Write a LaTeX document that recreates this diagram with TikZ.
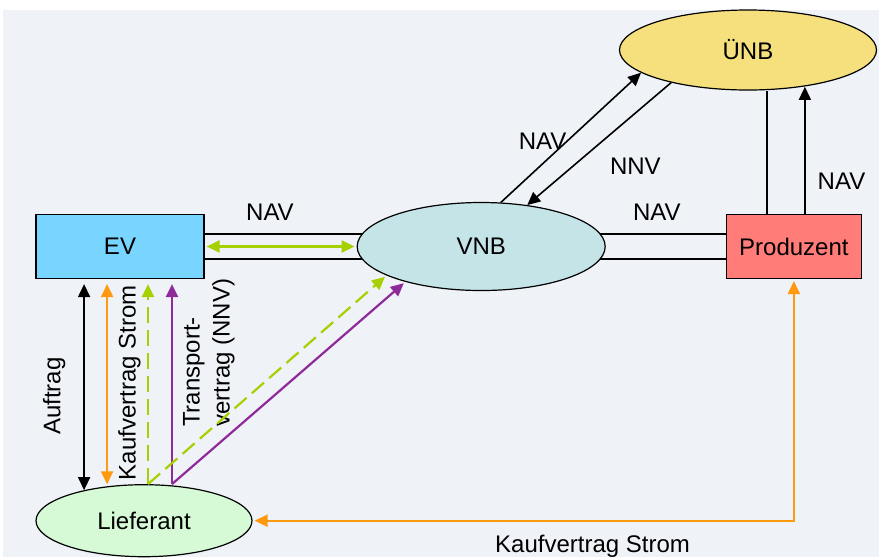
\documentclass[tikz,border=0pt]{standalone}
\usepackage{fontspec}
\setmainfont{Liberation Sans}
\usetikzlibrary{arrows.meta,positioning,shapes.geometric}
\definecolor{hgrund}{HTML}{EFF2F7}
\definecolor{evblau}{HTML}{77D5FF}
\definecolor{vnbtuerkis}{HTML}{C5E4E8}
\definecolor{uenbgelb}{HTML}{F5E07D}
\definecolor{prodrot}{HTML}{FF7C78}
\definecolor{liefgruen}{HTML}{D5FAD5}
\definecolor{navgruen}{HTML}{A6D000}
\definecolor{stromorange}{HTML}{FF9A10}
\definecolor{nnvlila}{HTML}{8E2A99}
\pgfdeclarelayer{hintergrund}
\pgfdeclarelayer{leitungen}
\pgfsetlayers{hintergrund,leitungen,main}
\tikzset{
    %Define standard arrow tip
    >={Triangle[length=13pt,width=12pt]},
    %Define style for boxes
    akteur/.style={
           rectangle,
           draw=black, line width=1.2pt,
           minimum height=64pt,
           text centered},
    netz/.style={
           ellipse,
           draw=black, line width=1.2pt,
           inner sep=0pt,
           text centered},
    % Define arrow styles
    vertrag/.style={
           line width=1.6pt},
    pfeil/.style={
           line width=2.2pt,
           shorten <=2pt,
           shorten >=2pt},
    strich/.style={
           dash pattern=on 16pt off 7pt},
    kanal/.style={
           line width=1.6pt,
           double=hgrund,
           double distance=23pt},
    lbl/.style={inner sep=2pt, text=black}
}
\begin{document}
\begin{tikzpicture}[x=1pt,y=-1pt,font=\fontsize{24}{30}\selectfont]
 \useasboundingbox (0,0) rectangle (879,558);
 \begin{pgfonlayer}{hintergrund}
  \fill[hgrund] (3,10) rectangle (879,557);
 \end{pgfonlayer}
 %nodes
\node[akteur, fill=evblau, minimum width=168pt] (ev) at (120,246.5) {EV};
\node[netz, fill=vnbtuerkis, minimum width=248pt, minimum height=88pt, right=152pt of ev] (vnb) {VNB};
\node[akteur, fill=prodrot, minimum width=135pt, right=120pt of vnb] (prod) {Produzent};
\node[netz, fill=uenbgelb, minimum width=257pt, minimum height=80pt] (uenb) at (748,50) {ÜNB};
\node[netz, fill=liefgruen, minimum width=216pt, minimum height=72pt, below=205pt of ev, xshift=24pt] (lief) {Lieferant};
 %edges
 \begin{pgfonlayer}{leitungen}
  \draw[kanal] (ev.center) -- (vnb.center);
  \draw[kanal] (vnb.center) -- node[lbl, pos=.562, above=23pt] {NAV} (prod.center);
 \end{pgfonlayer}
 \draw[<->, pfeil, navgruen] (ev.east) -- node[lbl, pos=.43, above=23pt] {NAV} (vnb.west);
 \draw[->, vertrag] (vnb.66) -- node[lbl, pos=.474, left=-2pt] {NAV} (uenb.192);
 \draw[->, vertrag] (uenb.203) -- node[lbl, pos=.68, right=34pt] {NNV} (vnb.42);
 \draw[vertrag] ([xshift=-27pt]prod.north) -- ([xshift=-27pt]prod.north |- uenb.south);
 \draw[->, vertrag] ([xshift=11pt]prod.north) -- node[lbl, pos=.26, right=10pt] {NAV} ([xshift=11pt]prod.north |- uenb.326);
 \draw[<->, vertrag, shorten >=5pt] (lief.153) -- node[lbl, pos=.445, xshift=-16pt, rotate=90, anchor=south] {Auftrag} (lief.153 |- ev.south);
 \draw[<->, pfeil, stromorange, shorten >=5pt] (lief.137) -- node[lbl, pos=.5, xshift=8pt, rotate=90, anchor=north] {Kaufvertrag Strom} (lief.137 |- ev.south);
 \draw[->, pfeil, navgruen, strich, shorten <=0pt, shorten >=5pt] ([xshift=4pt]lief.north) -- ([xshift=4pt]lief.north |- ev.south);
 \draw[->, pfeil, nnvlila, shorten <=0pt, shorten >=5pt] ([xshift=28pt]lief.north) -- node[lbl, pos=.64, xshift=8pt, rotate=90, anchor=north, align=left] {Transport-\\vertrag (NNV)} ([xshift=28pt]lief.north |- ev.south);
 \draw[->, pfeil, navgruen, strich, shorten <=0pt] ([xshift=4pt]lief.north) -- (vnb.197);
 \draw[->, pfeil, nnvlila, shorten <=0pt] ([xshift=28pt]lief.north) -- (vnb.205);
 \draw[<->, pfeil, stromorange] (prod.south) |- node[lbl, pos=.686, below=11pt] {Kaufvertrag Strom} (lief.east);
\end{tikzpicture}
\end{document}
